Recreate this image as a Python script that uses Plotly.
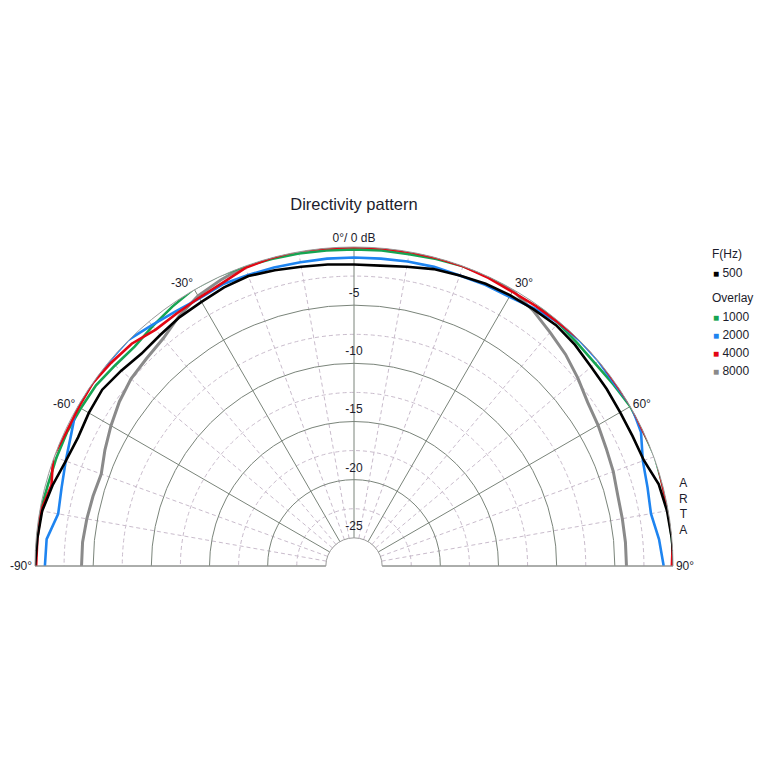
import plotly.graph_objects as go

# angles in degrees, 0 = on axis, positive = right
angles = list(range(-90, 95, 5))

# relative level in dB
f500 = [0.0, -0.1, -0.2, -0.6, -1.05, -1.25, -1.1, -1.0, -1.3, -1.6, -1.5, -1.3, -1.2,
        -1.0, -0.9, -1.1, -1.3, -1.4, -1.5, -1.5, -1.3, -1.0, -0.85, -0.65, -0.55,
        -0.5, -0.4, -0.55, -0.8, -0.9, -1.0, -1.0, -0.9, -0.3, -0.1, 0.0, 0.1]
f1000 = [0.0, 0.0, -0.05, -0.2, -0.2, -0.2, -0.3, -0.35, -0.6, -0.75, -0.5, -0.2, 0.1,
         0.1, 0.0, -0.1, -0.15, -0.2, -0.2, -0.2, -0.2, -0.1, 0.0, 0.0, 0.2,
         0.1, -0.15, -0.3, -0.35, -0.2, 0.0, 0.0, 0.1, 0.0, 0.0, 0.0, 0.1]
f2000 = [-0.85, -0.9, -1.6, -1.4, -1.05, -0.6, 0.1, 0.0, 0.0, 0.05, -0.4, -0.7, -0.85,
         -0.7, -0.8, -0.85, -0.9, -0.9, -0.9, -0.9, -0.85, -0.8, -0.85, -0.75, -0.7,
         -0.4, -0.1, 0.0, 0.0, -0.1, 0.1, -0.2, -1.0, -1.3, -1.5, -1.1, -0.8]
f4000 = [-0.1, -0.1, -0.1, -0.5, 0.1, -0.15, -0.1, 0.0, -0.2, -0.4, -0.9, -0.9, -0.8,
         -0.6, -0.15, 0.0, 0.1, 0.0, 0.0, 0.0, 0.0, 0.0, 0.0, -0.1, -0.2,
         -0.15, -0.1, 0.1, 0.1, 0.0, 0.1, 0.0, 0.2, 0.0, 0.0, 0.1, -0.1]
f8000 = [-4.0, -4.0, -4.1, -4.2, -4.3, -3.8, -3.3, -2.8, -2.4, -2.2, -1.9, -1.2, -0.6,
         -0.3, 0.0, 0.1, 0.1, 0.0, 0.0, 0.0, 0.1, 0.1, 0.1, 0.0, -0.1,
         -0.6, -1.2, -1.7, -2.3, -2.9, -3.2, -3.5, -3.7, -3.95, -4.0, -4.0, -4.0]

names = ["500", "1000", "2000", "4000", "8000"]
levels = [f500, f1000, f2000, f4000, f8000]
colors = ["#000000", "#16a452", "#1e84f0", "#e30613", "#8a8a8a"]

major_angles = [-90, -60, -30, 0, 30, 60, 90]
major_labels = ["-90°", "-60°", "-30°", "0°/ 0 dB", "30°", "60°", "90°"]
minor_angles = [-80, -70, -50, -40, -20, -10, 10, 20, 40, 50, 70, 80]
major_rings = [-25, -20, -15, -10, -5]
minor_rings = [-22.5, -17.5, -12.5, -7.5, -2.5]
ring_labels = ["-25", "-20", "-15", "-10", "-5"]

font = "Liberation Sans, Arial, sans-serif"
txt = "#1c1c2c"
hole = 0.0883


# page body has an 8px margin, so screen position = figure position + 8
def px(x):
    return (x - 8) / 768


def py(y):
    return 1 - (y - 8) / 768


fig = go.Figure()

# curves, drawing order: 8000 under, 500 on top
for i in [4, 1, 2, 3, 0]:
    fig.add_trace(go.Scatterpolar(
        r=levels[i], theta=angles, mode="lines", subplot="polar2",
        line=dict(color=colors[i], width=2.6 if i != 4 else 3),
        showlegend=False, hoverinfo="skip"))

# dB labels on the 0 deg line
fig.add_trace(go.Scatterpolar(
    r=[v + 0.95 for v in major_rings], theta=[0] * len(major_rings),
    mode="text", text=ring_labels, subplot="polar2",
    textfont=dict(size=12, color=txt, family=font),
    showlegend=False, hoverinfo="skip"))

# empty trace so the lower (dashed grid) polar gets drawn
fig.add_trace(go.Scatterpolar(r=[None], theta=[None], subplot="polar",
                              showlegend=False, hoverinfo="skip"))

# legend as text: F(Hz) block and Overlay block
annos = []
annos.append(dict(text="F(Hz)", x=px(710), y=py(254)))
annos.append(dict(text="Overlay", x=px(710), y=py(298)))
row_y = [273, 317, 335, 353, 371]
for i in range(len(names)):
    annos.append(dict(
        text=f"<span style='color:{colors[i]};font-size:10px'>■</span> {names[i]}",
        x=px(711), y=py(row_y[i])))
for a in annos:
    a.update(xref="paper", yref="paper", xanchor="left", yanchor="middle",
             showarrow=False, font=dict(size=12, color=txt))

annos.append(dict(text="A<br>R<br>T<br>A", x=px(690), y=py(506),
                  xref="paper", yref="paper", showarrow=False,
                  font=dict(size=12, color=txt)))

dom_x = [px(35), px(673)]
dom_y = [py(566), py(247)]

fig.update_layout(
    width=768, height=768,
    paper_bgcolor="white",
    margin=dict(l=0, r=0, t=0, b=0),
    font=dict(family=font, size=12, color=txt),
    title=dict(text="Directivity pattern", x=px(354), xanchor="center",
               y=py(204), yanchor="middle",
               font=dict(size=16.5, color=txt)),
    polar=dict(
        domain=dict(x=dom_x, y=dom_y),
        sector=[0, 180], hole=hole, bgcolor="white",
        angularaxis=dict(rotation=90, direction="clockwise",
                         tickvals=minor_angles, showticklabels=False, ticks="",
                         showline=False, gridcolor="#c9bccc", gridwidth=1,
                         griddash="4px,3px"),
        radialaxis=dict(range=[-25, 0], tickvals=minor_rings,
                        showticklabels=False, ticks="", showline=False,
                        gridcolor="#c9bccc", gridwidth=1, griddash="4px,3px"),
    ),
    polar2=dict(
        domain=dict(x=dom_x, y=dom_y),
        sector=[0, 180], hole=hole, bgcolor="rgba(0,0,0,0)",
        angularaxis=dict(rotation=90, direction="clockwise",
                         tickvals=major_angles, ticktext=major_labels, ticks="",
                         tickfont=dict(size=12, color=txt),
                         showline=True, linecolor="#9a9a9a", linewidth=1,
                         gridcolor="#7a847a", gridwidth=1),
        radialaxis=dict(range=[-25, 0], tickvals=major_rings,
                        showticklabels=False, ticks="", showline=False,
                        gridcolor="#7a847a", gridwidth=1),
    ),
    showlegend=False,
    annotations=annos,
)

fig.write_html("out.html")
